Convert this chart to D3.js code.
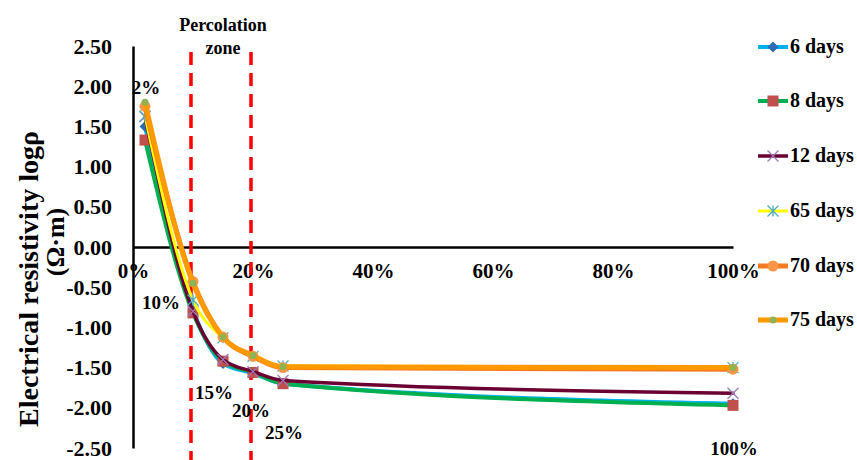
<!DOCTYPE html>
<html>
<head>
<meta charset="utf-8">
<script src="https://cdn.jsdelivr.net/npm/d3@7"></script>
<style>
  html, body { margin: 0; padding: 0; background: #fff; }
  svg { display: block; }
  text { font-family: "Liberation Serif", "DejaVu Serif", serif; font-weight: bold; fill: #000; }
</style>
</head>
<body>
<svg id="chart" width="857" height="460"></svg>
<script>
// Carbon content (%) of each sample
const contents = [2, 10, 15, 20, 25, 100];
const contentLabels = ["2%", "10%", "15%", "20%", "25%", "100%"];

// log10 of electrical resistivity (Ω·m) by curing age
const days6  = [1.50, -0.79, -1.45, -1.57, -1.70, -1.95];
const days8  = [1.33, -0.82, -1.42, -1.56, -1.70, -1.97];
const days12 = [1.62, -0.80, -1.40, -1.55, -1.66, -1.82];
const days65 = [1.63, -0.66, -1.13, -1.36, -1.48, -1.50];
const days70 = [1.75, -0.43, -1.12, -1.36, -1.50, -1.52];
const days75 = [1.80, -0.45, -1.12, -1.35, -1.49, -1.50];
const seriesNames = ["6 days", "8 days", "12 days", "65 days", "70 days", "75 days"];

const yTicks = [2.5, 2.0, 1.5, 1.0, 0.5, 0.0, -0.5, -1.0, -1.5, -2.0, -2.5];
const xTicks = [0, 20, 40, 60, 80, 100];
const percolationBounds = [10, 20];

const svg = d3.select("#chart");
const x = d3.scaleLinear().domain([0, 100]).range([133, 733]);
const y = d3.scaleLinear().domain([-2.5, 2.5]).range([448, 46]);

const styles = [
  { line: "#00B0F0", width: 4,   marker: "diamond", fill: "#2E6DB4", size: 11 },
  { line: "#00B050", width: 4,   marker: "square",  fill: "#C0504D", size: 11 },
  { line: "#6B0032", width: 3.5, marker: "cross",   fill: "#9E7BB5", size: 11 },
  { line: "#FFFF00", width: 3,   marker: "star",    fill: "#4BACC6", size: 11 },
  { line: "#F47920", width: 5,   marker: "circle",  fill: "#F79646", size: 11 },
  { line: "#FF9900", width: 5,   marker: "circle",  fill: "#8DB354", size: 7 }
];
const values = [days6, days8, days12, days65, days70, days75];

// Y axis: line and labels (plain hyphen minus), no tick marks
const fmt2 = d => d.toFixed(2);
const yAxis = d3.axisLeft(y).tickValues(yTicks).tickFormat(fmt2).tickSize(0).tickPadding(21);
const yg = svg.append("g").attr("transform", `translate(${x(0)},0)`).call(yAxis);
yg.select(".domain").attr("stroke", "#000").attr("stroke-width", 2.5);
yg.selectAll("text").style("font-size", "22px").style("font-family", "Liberation Serif, serif").style("font-weight", "bold");

// X axis along zero, labels hanging below
const xAxis = d3.axisBottom(x).tickValues(xTicks).tickFormat(d => d + "%").tickSize(0).tickPadding(16);
const xg = svg.append("g").attr("transform", `translate(0,${y(0)})`).call(xAxis);
xg.select(".domain").attr("stroke", "#000").attr("stroke-width", 2.5);
xg.selectAll("text").style("font-size", "21px").style("font-family", "Liberation Serif, serif").style("font-weight", "bold");

// Percolation zone bounds
svg.selectAll("line.bound").data(percolationBounds).enter().append("line")
  .attr("class", "bound")
  .attr("x1", d => x(d) - 2).attr("x2", d => x(d) - 2)
  .attr("y1", 52).attr("y2", 460)
  .attr("stroke", "#FF0000").attr("stroke-width", 3.5)
  .attr("stroke-dasharray", "13,8");

svg.append("text").attr("x", 223).attr("y", 31).attr("text-anchor", "middle")
  .style("font-size", "18px").text("Percolation");
svg.append("text").attr("x", 223).attr("y", 54).attr("text-anchor", "middle")
  .style("font-size", "18px").text("zone");

// Y axis title
svg.append("text").attr("transform", "translate(38,279) rotate(-90)").attr("text-anchor", "middle")
  .style("font-size", "28px").text("Electrical resistivity logρ");
svg.append("text").attr("transform", "translate(64,242) rotate(-90)").attr("text-anchor", "middle")
  .style("font-size", "26px").text("(Ω·m)");

const line = d3.line().x((d, i) => x(contents[i])).y(d => y(d)).curve(d3.curveMonotoneX);

function drawMarker(g, type, cx, cy, s, fill) {
  const h = s / 2;
  if (type === "diamond") {
    g.append("path").attr("d", `M${cx},${cy - h}L${cx + h},${cy}L${cx},${cy + h}L${cx - h},${cy}Z`).attr("fill", fill);
  } else if (type === "square") {
    g.append("rect").attr("x", cx - h).attr("y", cy - h).attr("width", s).attr("height", s).attr("fill", fill);
  } else if (type === "cross") {
    g.append("path").attr("d", `M${cx - h},${cy - h}L${cx + h},${cy + h}M${cx - h},${cy + h}L${cx + h},${cy - h}`)
      .attr("stroke", fill).attr("stroke-width", 1.3).attr("fill", "none");
  } else if (type === "star") {
    g.append("path").attr("d", `M${cx - h},${cy - h}L${cx + h},${cy + h}M${cx - h},${cy + h}L${cx + h},${cy - h}M${cx},${cy - h}L${cx},${cy + h}`)
      .attr("stroke", fill).attr("stroke-width", 1.3).attr("fill", "none");
  } else {
    g.append("circle").attr("cx", cx).attr("cy", cy).attr("r", h).attr("fill", fill);
  }
}

// Series lines with markers
values.forEach((vals, k) => {
  const st = styles[k];
  const g = svg.append("g");
  g.append("path").datum(vals).attr("d", line).attr("fill", "none")
    .attr("stroke", st.line).attr("stroke-width", st.width).attr("stroke-linejoin", "round").attr("stroke-linecap", "round");
  vals.forEach((v, i) => drawMarker(g, st.marker, x(contents[i]), y(v), st.size, st.fill));
});

// Content labels next to points
const labelPos = [[146, 94], [161, 309], [214, 399], [251, 417], [284, 439], [734, 455]];
svg.selectAll("text.plabel").data(contentLabels).enter().append("text")
  .attr("class", "plabel")
  .attr("x", (d, i) => labelPos[i][0]).attr("y", (d, i) => labelPos[i][1])
  .attr("text-anchor", "middle").style("font-size", "19px").text(d => d);

// Legend
const legendY = [47, 101, 156, 211, 266, 320];
seriesNames.forEach((name, k) => {
  const st = styles[k];
  const g = svg.append("g");
  const ly = legendY[k];
  g.append("line").attr("x1", 758).attr("x2", 788).attr("y1", ly).attr("y2", ly)
    .attr("stroke", st.line).attr("stroke-width", st.width);
  drawMarker(g, st.marker, 773, ly, st.size, st.fill);
  g.append("text").attr("x", 790).attr("y", ly + 6).style("font-size", "20px").text(name);
});
</script>
</body>
</html>
